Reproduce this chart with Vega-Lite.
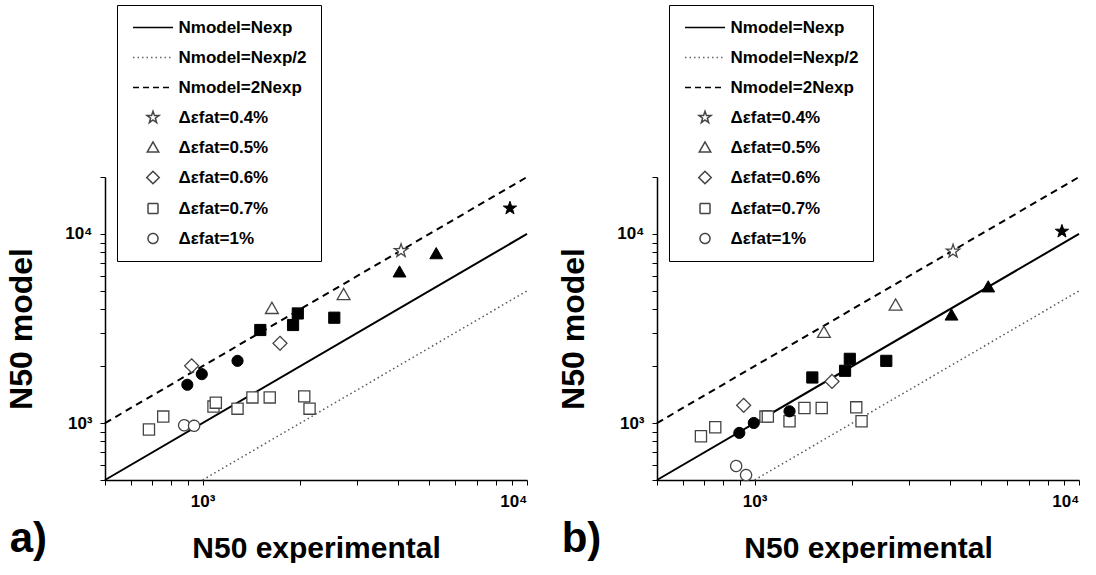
{
  "$schema": "https://vega.github.io/schema/vega-lite/v6.json",
  "background": "white",
  "padding": {"left": 5, "top": 4, "right": 0, "bottom": 0},
  "config": {
    "font": "Liberation Sans",
    "view": {"stroke": null},
    "axis": {"grid": false, "domainColor": "black", "domainWidth": 1.5, "tickColor": "black", "tickWidth": 1, "tickSize": 5, "labelFont": "Liberation Sans", "labelFontSize": 17, "labelFontWeight": "bold", "labelColor": "black", "titleFont": "Liberation Sans", "titleFontWeight": "bold", "titleColor": "black", "labelPadding": 8},
    "legend": {"labelFont": "Liberation Sans", "labelFontSize": 17, "labelFontWeight": "bold", "labelColor": "black", "strokeColor": "black", "fillColor": "white", "padding": 14, "rowPadding": 12, "symbolOffset": 13.5, "labelOffset": 17, "symbolSize": 100, "labelLimit": 300, "symbolStrokeWidth": 1.5}
  },
  "datasets": {
    "lines": [
      {"key": "Nmodel=Nexp", "exp": 500, "model": 500},
      {"key": "Nmodel=Nexp", "exp": 10000, "model": 10000},
      {"key": "Nmodel=Nexp/2", "exp": 1000, "model": 500},
      {"key": "Nmodel=Nexp/2", "exp": 10000, "model": 5000},
      {"key": "Nmodel=2Nexp", "exp": 500, "model": 1000},
      {"key": "Nmodel=2Nexp", "exp": 10000, "model": 20000}
    ],
    "a": [
      {"key": "Δεfat=0.4%", "filled": "open", "exp": 4090, "model": 8150},
      {"key": "Δεfat=0.4%", "filled": "filled", "exp": 8860, "model": 13670},
      {"key": "Δεfat=0.5%", "filled": "open", "exp": 1635, "model": 4036},
      {"key": "Δεfat=0.5%", "filled": "open", "exp": 2720, "model": 4780},
      {"key": "Δεfat=0.5%", "filled": "filled", "exp": 4045, "model": 6295},
      {"key": "Δεfat=0.5%", "filled": "filled", "exp": 5250, "model": 7859},
      {"key": "Δεfat=0.6%", "filled": "open", "exp": 925, "model": 2008},
      {"key": "Δεfat=0.6%", "filled": "open", "exp": 1732, "model": 2641},
      {"key": "Δεfat=0.7%", "filled": "open", "exp": 683, "model": 924},
      {"key": "Δεfat=0.7%", "filled": "open", "exp": 756, "model": 1082},
      {"key": "Δεfat=0.7%", "filled": "open", "exp": 1080, "model": 1222},
      {"key": "Δεfat=0.7%", "filled": "open", "exp": 1098, "model": 1282},
      {"key": "Δεfat=0.7%", "filled": "open", "exp": 1281, "model": 1192},
      {"key": "Δεfat=0.7%", "filled": "open", "exp": 1424, "model": 1367},
      {"key": "Δεfat=0.7%", "filled": "open", "exp": 1610, "model": 1367},
      {"key": "Δεfat=0.7%", "filled": "open", "exp": 2057, "model": 1384},
      {"key": "Δεfat=0.7%", "filled": "open", "exp": 2136, "model": 1192},
      {"key": "Δεfat=0.7%", "filled": "filled", "exp": 1506, "model": 3105},
      {"key": "Δεfat=0.7%", "filled": "filled", "exp": 1900, "model": 3300},
      {"key": "Δεfat=0.7%", "filled": "filled", "exp": 1965, "model": 3798},
      {"key": "Δεfat=0.7%", "filled": "filled", "exp": 2546, "model": 3606},
      {"key": "Δεfat=1%", "filled": "open", "exp": 877, "model": 974},
      {"key": "Δεfat=1%", "filled": "open", "exp": 941, "model": 967},
      {"key": "Δεfat=1%", "filled": "filled", "exp": 897, "model": 1594},
      {"key": "Δεfat=1%", "filled": "filled", "exp": 994, "model": 1814},
      {"key": "Δεfat=1%", "filled": "filled", "exp": 1281, "model": 2133}
    ],
    "b": [
      {"key": "Δεfat=0.4%", "filled": "open", "exp": 4090, "model": 8091},
      {"key": "Δεfat=0.4%", "filled": "filled", "exp": 8860, "model": 10310},
      {"key": "Δεfat=0.5%", "filled": "open", "exp": 1635, "model": 3017},
      {"key": "Δεfat=0.5%", "filled": "open", "exp": 2720, "model": 4205},
      {"key": "Δεfat=0.5%", "filled": "filled", "exp": 4045, "model": 3725},
      {"key": "Δεfat=0.5%", "filled": "filled", "exp": 5250, "model": 5248},
      {"key": "Δεfat=0.6%", "filled": "open", "exp": 925, "model": 1241},
      {"key": "Δεfat=0.6%", "filled": "open", "exp": 1732, "model": 1660},
      {"key": "Δεfat=0.7%", "filled": "open", "exp": 683, "model": 852},
      {"key": "Δεfat=0.7%", "filled": "open", "exp": 756, "model": 951},
      {"key": "Δεfat=0.7%", "filled": "open", "exp": 1080, "model": 1082},
      {"key": "Δεfat=0.7%", "filled": "open", "exp": 1098, "model": 1082},
      {"key": "Δεfat=0.7%", "filled": "open", "exp": 1281, "model": 1022},
      {"key": "Δεfat=0.7%", "filled": "open", "exp": 1424, "model": 1201},
      {"key": "Δεfat=0.7%", "filled": "open", "exp": 1610, "model": 1201},
      {"key": "Δεfat=0.7%", "filled": "open", "exp": 2057, "model": 1211},
      {"key": "Δεfat=0.7%", "filled": "open", "exp": 2136, "model": 1022},
      {"key": "Δεfat=0.7%", "filled": "filled", "exp": 1506, "model": 1742},
      {"key": "Δεfat=0.7%", "filled": "filled", "exp": 1900, "model": 1890},
      {"key": "Δεfat=0.7%", "filled": "filled", "exp": 1965, "model": 2186},
      {"key": "Δεfat=0.7%", "filled": "filled", "exp": 2546, "model": 2133},
      {"key": "Δεfat=1%", "filled": "open", "exp": 877, "model": 593},
      {"key": "Δεfat=1%", "filled": "open", "exp": 941, "model": 531},
      {"key": "Δεfat=1%", "filled": "filled", "exp": 897, "model": 887},
      {"key": "Δεfat=1%", "filled": "filled", "exp": 994, "model": 1001},
      {"key": "Δεfat=1%", "filled": "filled", "exp": 1281, "model": 1154}
    ]
  },
  "resolve": {"scale": {"shape": "independent", "stroke": "independent", "strokeDash": "independent", "x": "independent", "y": "independent"}, "legend": {"shape": "independent", "stroke": "independent", "strokeDash": "independent"}},
  "spacing": 26,
  "hconcat": [
    {
      "width": 422, "height": 303,
      "title": {"text": "a)", "orient": "bottom", "anchor": "start", "fontSize": 42, "fontWeight": "bold", "color": "black", "offset": -44, "dx": 4, "font": "Liberation Sans"},
      "layer": [
        {"data": {"name": "lines"}, "transform": [{"filter": "datum.key === 'Nmodel=Nexp/2'"}],
         "mark": {"type": "line", "color": "#555", "strokeWidth": 1.5, "strokeDash": [1.5, 3]},
         "encoding": {
           "x": {"field": "exp", "type": "quantitative", "scale": {"type": "log", "domain": [500, 10000], "nice": false}, "axis": {"values": [500,600,700,800,900,1000,2000,3000,4000,5000,6000,7000,8000,9000,10000], "labelExpr": "datum.value == 1000 ? '10³' : datum.value == 10000 ? '10⁴' : ''", "title": "N50 experimental", "titleFontSize": 30, "titlePadding": 24}},
           "y": {"field": "model", "type": "quantitative", "scale": {"type": "log", "domain": [500, 20000], "nice": false}, "axis": {"values": [500,600,700,800,900,1000,2000,3000,4000,5000,6000,7000,8000,9000,10000,20000], "labelExpr": "datum.value == 1000 ? '10³' : datum.value == 10000 ? '10⁴' : ''", "title": "N50 model", "titleFontSize": 32, "titlePadding": 26}}
         }},
        {"data": {"name": "lines"}, "transform": [{"filter": "datum.key === 'Nmodel=2Nexp'"}],
         "mark": {"type": "line", "color": "black", "strokeWidth": 2, "strokeDash": [7, 5]},
         "encoding": {"x": {"field": "exp", "type": "quantitative"}, "y": {"field": "model", "type": "quantitative"}}},
        {"data": {"name": "lines"}, "transform": [{"filter": "datum.key === 'Nmodel=Nexp'"}],
         "mark": {"type": "line", "color": "black", "strokeWidth": 2},
         "encoding": {"x": {"field": "exp", "type": "quantitative"}, "y": {"field": "model", "type": "quantitative"}}},
        {"data": {"name": "a"}, "transform": [{"filter": "datum.filled === 'open'"}],
         "mark": {"type": "point", "filled": true, "fill": "white", "size": 125, "strokeWidth": 1.3, "opacity": 1},
         "encoding": {
           "x": {"field": "exp", "type": "quantitative"},
           "y": {"field": "model", "type": "quantitative"},
           "shape": {"field": "key", "type": "nominal",
             "scale": {"domain": ["Nmodel=Nexp", "Nmodel=Nexp/2", "Nmodel=2Nexp", "Δεfat=0.4%", "Δεfat=0.5%", "Δεfat=0.6%", "Δεfat=0.7%", "Δεfat=1%"],
                       "range": ["M-4,0L4,0", "M-4,0L4,0", "M-4,0L4,0", "M0,-1.25L0.29,-0.4L1.19,-0.39L0.47,0.15L0.73,1.01L0,0.5L-0.73,1.01L-0.47,0.15L-1.19,-0.39L-0.29,-0.4Z", "M0,-1.1L1.15,0.9L-1.15,0.9Z", "M0,-1.25L1.25,0L0,1.25L-1.25,0Z", "square", "circle"]},
             "legend": {"orient": "none", "legendX": 12, "legendY": -172, "title": null}},
           "stroke": {"field": "key", "type": "nominal",
             "scale": {"domain": ["Nmodel=Nexp", "Nmodel=Nexp/2", "Nmodel=2Nexp", "Δεfat=0.4%", "Δεfat=0.5%", "Δεfat=0.6%", "Δεfat=0.7%", "Δεfat=1%"],
                       "range": ["black", "#666", "black", "#444", "#444", "#444", "#444", "#444"]},
             "legend": {"orient": "none", "legendX": 12, "legendY": -172, "title": null}},
           "strokeDash": {"field": "key", "type": "nominal",
             "scale": {"domain": ["Nmodel=Nexp", "Nmodel=Nexp/2", "Nmodel=2Nexp", "Δεfat=0.4%", "Δεfat=0.5%", "Δεfat=0.6%", "Δεfat=0.7%", "Δεfat=1%"],
                       "range": [[1, 0], [1.5, 3], [6, 4], [1, 0], [1, 0], [1, 0], [1, 0], [1, 0]]},
             "legend": {"orient": "none", "legendX": 12, "legendY": -172, "title": null}}
         }},
        {"data": {"name": "a"}, "transform": [{"filter": "datum.filled === 'filled'"}],
         "mark": {"type": "point", "filled": true, "fill": "black", "stroke": "black", "size": 125, "strokeWidth": 1, "opacity": 1},
         "encoding": {
           "x": {"field": "exp", "type": "quantitative"},
           "y": {"field": "model", "type": "quantitative"},
           "shape": {"field": "key", "type": "nominal", "legend": null}
         }}
      ]
    },
    {
      "width": 422, "height": 303,
      "title": {"text": "b)", "orient": "bottom", "anchor": "start", "fontSize": 42, "fontWeight": "bold", "color": "black", "offset": -44, "dx": 4, "font": "Liberation Sans"},
      "layer": [
        {"data": {"name": "lines"}, "transform": [{"filter": "datum.key === 'Nmodel=Nexp/2'"}],
         "mark": {"type": "line", "color": "#555", "strokeWidth": 1.5, "strokeDash": [1.5, 3]},
         "encoding": {
           "x": {"field": "exp", "type": "quantitative", "scale": {"type": "log", "domain": [500, 10000], "nice": false}, "axis": {"values": [500,600,700,800,900,1000,2000,3000,4000,5000,6000,7000,8000,9000,10000], "labelExpr": "datum.value == 1000 ? '10³' : datum.value == 10000 ? '10⁴' : ''", "title": "N50 experimental", "titleFontSize": 30, "titlePadding": 24}},
           "y": {"field": "model", "type": "quantitative", "scale": {"type": "log", "domain": [500, 20000], "nice": false}, "axis": {"values": [500,600,700,800,900,1000,2000,3000,4000,5000,6000,7000,8000,9000,10000,20000], "labelExpr": "datum.value == 1000 ? '10³' : datum.value == 10000 ? '10⁴' : ''", "title": "N50 model", "titleFontSize": 32, "titlePadding": 26}}
         }},
        {"data": {"name": "lines"}, "transform": [{"filter": "datum.key === 'Nmodel=2Nexp'"}],
         "mark": {"type": "line", "color": "black", "strokeWidth": 2, "strokeDash": [7, 5]},
         "encoding": {"x": {"field": "exp", "type": "quantitative"}, "y": {"field": "model", "type": "quantitative"}}},
        {"data": {"name": "lines"}, "transform": [{"filter": "datum.key === 'Nmodel=Nexp'"}],
         "mark": {"type": "line", "color": "black", "strokeWidth": 2},
         "encoding": {"x": {"field": "exp", "type": "quantitative"}, "y": {"field": "model", "type": "quantitative"}}},
        {"data": {"name": "b"}, "transform": [{"filter": "datum.filled === 'open'"}],
         "mark": {"type": "point", "filled": true, "fill": "white", "size": 125, "strokeWidth": 1.3, "opacity": 1},
         "encoding": {
           "x": {"field": "exp", "type": "quantitative"},
           "y": {"field": "model", "type": "quantitative"},
           "shape": {"field": "key", "type": "nominal",
             "scale": {"domain": ["Nmodel=Nexp", "Nmodel=Nexp/2", "Nmodel=2Nexp", "Δεfat=0.4%", "Δεfat=0.5%", "Δεfat=0.6%", "Δεfat=0.7%", "Δεfat=1%"],
                       "range": ["M-4,0L4,0", "M-4,0L4,0", "M-4,0L4,0", "M0,-1.25L0.29,-0.4L1.19,-0.39L0.47,0.15L0.73,1.01L0,0.5L-0.73,1.01L-0.47,0.15L-1.19,-0.39L-0.29,-0.4Z", "M0,-1.1L1.15,0.9L-1.15,0.9Z", "M0,-1.25L1.25,0L0,1.25L-1.25,0Z", "square", "circle"]},
             "legend": {"orient": "none", "legendX": 12, "legendY": -172, "title": null}},
           "stroke": {"field": "key", "type": "nominal",
             "scale": {"domain": ["Nmodel=Nexp", "Nmodel=Nexp/2", "Nmodel=2Nexp", "Δεfat=0.4%", "Δεfat=0.5%", "Δεfat=0.6%", "Δεfat=0.7%", "Δεfat=1%"],
                       "range": ["black", "#666", "black", "#444", "#444", "#444", "#444", "#444"]},
             "legend": {"orient": "none", "legendX": 12, "legendY": -172, "title": null}},
           "strokeDash": {"field": "key", "type": "nominal",
             "scale": {"domain": ["Nmodel=Nexp", "Nmodel=Nexp/2", "Nmodel=2Nexp", "Δεfat=0.4%", "Δεfat=0.5%", "Δεfat=0.6%", "Δεfat=0.7%", "Δεfat=1%"],
                       "range": [[1, 0], [1.5, 3], [6, 4], [1, 0], [1, 0], [1, 0], [1, 0], [1, 0]]},
             "legend": {"orient": "none", "legendX": 12, "legendY": -172, "title": null}}
         }},
        {"data": {"name": "b"}, "transform": [{"filter": "datum.filled === 'filled'"}],
         "mark": {"type": "point", "filled": true, "fill": "black", "stroke": "black", "size": 125, "strokeWidth": 1, "opacity": 1},
         "encoding": {
           "x": {"field": "exp", "type": "quantitative"},
           "y": {"field": "model", "type": "quantitative"},
           "shape": {"field": "key", "type": "nominal", "legend": null}
         }}
      ]
    }
  ]
}
